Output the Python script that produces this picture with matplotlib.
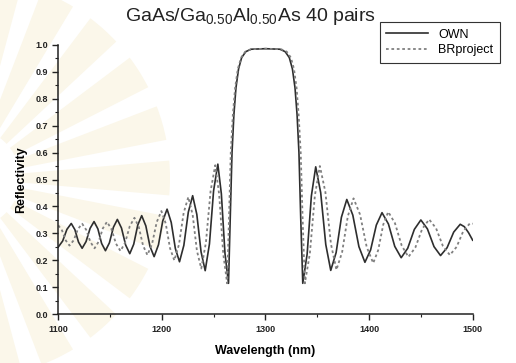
"""Reflectivity spectrum of a GaAs/Ga0.5Al0.5As Bragg mirror, OWN vs BRproject."""

import numpy as np
import matplotlib.pyplot as plt
from matplotlib.patches import Wedge
from matplotlib.ticker import MultipleLocator

plt.rcParams['font.family'] = ['Liberation Sans', 'DejaVu Sans']
plt.rcParams['mathtext.fontset'] = 'custom'
plt.rcParams['mathtext.rm'] = 'Liberation Sans'
plt.rcParams['mathtext.it'] = 'Liberation Sans:italic'

# OWN calculation (wavelength in nm, reflectivity)
own_wl = [1100, 1104.2, 1108.3, 1112.5, 1116.0, 1119.5, 1123, 1126.8, 1130.7, 1134.5,
          1138.2, 1141.8, 1145.5, 1149.3, 1153.2, 1157, 1161, 1165, 1169, 1172.8,
          1176.7, 1180.5, 1184.5, 1188.5, 1192.5, 1196.7, 1200.8, 1205, 1209, 1213,
          1217, 1221.2, 1225.5, 1229.7, 1233.7, 1237.8, 1241.8, 1245.9, 1249.9, 1254,
          1257.4, 1260.9, 1264.3, 1266, 1267.7, 1269.5, 1271.5, 1274, 1277, 1281,
          1286, 1300, 1314, 1319, 1323, 1326, 1328.5, 1330.5, 1332.3, 1334,
          1336, 1340.2, 1344.3, 1348.5, 1353.3, 1358.2, 1363, 1368.2, 1373.3, 1378.5,
          1384.3, 1390.2, 1396, 1401.5, 1407, 1412.5, 1418.7, 1424.8, 1431, 1437.3,
          1443.7, 1450, 1456.3, 1462.7, 1469, 1475.3, 1481.7, 1488, 1492, 1496, 1500]
own_r = [0.25, 0.272, 0.315, 0.337, 0.314, 0.268, 0.245, 0.270, 0.319, 0.344,
         0.317, 0.263, 0.236, 0.265, 0.323, 0.352, 0.320, 0.257, 0.225, 0.260,
         0.331, 0.366, 0.328, 0.252, 0.214, 0.258, 0.346, 0.390, 0.341, 0.244,
         0.195, 0.256, 0.379, 0.440, 0.371, 0.232, 0.162, 0.261, 0.458, 0.557,
         0.447, 0.226, 0.115, 0.36, 0.60, 0.74, 0.84, 0.91, 0.952, 0.974,
         0.983, 0.985, 0.983, 0.974, 0.952, 0.91, 0.84, 0.74, 0.60, 0.36,
         0.115, 0.223, 0.439, 0.547, 0.451, 0.259, 0.163, 0.229, 0.360, 0.426,
         0.368, 0.251, 0.193, 0.239, 0.331, 0.377, 0.335, 0.252, 0.210, 0.245,
         0.315, 0.350, 0.317, 0.251, 0.218, 0.247, 0.305, 0.334, 0.325, 0.303, 0.275]

# BRproject calculation
br_wl = [1100, 1103.6, 1107.2, 1110.8, 1114.9, 1118.9, 1123, 1127, 1131, 1135,
         1139, 1143, 1147, 1151.3, 1155.7, 1160, 1164.5, 1169, 1173.5, 1177.7,
         1181.8, 1186, 1190.5, 1195, 1199.5, 1203.7, 1207.8, 1212, 1216.5, 1221,
         1225.5, 1229.7, 1233.8, 1238, 1242.5, 1247, 1251.5, 1255.3, 1259.2, 1263,
         1264.8, 1266.5, 1268.5, 1270.7, 1273.3, 1276.5, 1280.5, 1286, 1300, 1315,
         1320.5, 1324.5, 1327.5, 1330, 1332, 1334, 1335.8, 1338, 1342.8, 1347.7,
         1352.5, 1357.8, 1363.2, 1368.5, 1374, 1379.5, 1385, 1391.3, 1397.7, 1404,
         1408.8, 1413.7, 1418.5, 1425, 1431.5, 1438, 1444.7, 1451.3, 1458, 1464.7,
         1471.3, 1478, 1484.5, 1491, 1497.5, 1500]
br_r = [0.33, 0.311, 0.274, 0.255, 0.275, 0.316, 0.336, 0.313, 0.268, 0.245,
        0.270, 0.319, 0.343, 0.316, 0.262, 0.235, 0.266, 0.327, 0.358, 0.324,
        0.255, 0.220, 0.261, 0.342, 0.383, 0.337, 0.246, 0.200, 0.259, 0.376,
        0.435, 0.369, 0.236, 0.170, 0.266, 0.457, 0.553, 0.444, 0.225, 0.115,
        0.36, 0.60, 0.74, 0.84, 0.91, 0.952, 0.974, 0.983, 0.985, 0.983,
        0.974, 0.952, 0.91, 0.84, 0.74, 0.60, 0.36, 0.115, 0.224, 0.441,
        0.550, 0.454, 0.261, 0.165, 0.231, 0.364, 0.430, 0.370, 0.250, 0.190,
        0.238, 0.333, 0.380, 0.338, 0.255, 0.213, 0.248, 0.317, 0.352, 0.319,
        0.253, 0.220, 0.250, 0.309, 0.338, 0.336]

fig = plt.figure(figsize=(5.16, 3.63), dpi=100)

# faint fan-shaped emblem printed behind the left part of the page
for ang in np.arange(-80, 81, 16):
    fig.patches.append(Wedge((-30, 185), 200, ang - 5, ang + 5, width=150,
                             transform=None, color='#fbf7ea', lw=0, zorder=-5))

ax = fig.add_axes([0.113, 0.134, 0.803, 0.743])
ax.patch.set_alpha(0)

ax.plot(own_wl, own_r, color='#2e2e2e', lw=1.2, solid_joinstyle='round', label='OWN')
ax.plot(br_wl, br_r, color='#808080', lw=1.3, ls=(0, (1.5, 1.5)), label='BRproject')

ax.set_xlim(1100, 1500)
ax.set_ylim(0.0, 1.0)
ax.xaxis.set_major_locator(MultipleLocator(100))
ax.xaxis.set_minor_locator(MultipleLocator(50))
ax.yaxis.set_major_locator(MultipleLocator(0.1))
ax.yaxis.set_minor_locator(MultipleLocator(0.05))
ax.spines['top'].set_visible(False)
ax.spines['right'].set_visible(False)
for s in ('left', 'bottom'):
    ax.spines[s].set_linewidth(1.1)
    ax.spines[s].set_color('#222222')
ax.tick_params(which='major', direction='out', length=4, width=1, colors='#222222',
               labelsize=6.5)
ax.tick_params(which='minor', direction='out', length=2, width=0.8, colors='#222222')
for lab in ax.get_xticklabels() + ax.get_yticklabels():
    lab.set_fontweight('bold')
ax.yaxis.set_major_formatter(plt.FormatStrFormatter('%.1f'))

ax.set_xlabel('Wavelength (nm)', fontsize=9, fontweight='bold', labelpad=8)
ax.set_ylabel('Reflectivity', fontsize=9, fontweight='bold', labelpad=6)

fig.text(0.485, 0.955, 'GaAs/Ga$_{0.50}$Al$_{0.50}$As 40 pairs', ha='center', va='center',
         fontsize=14, color='#222222')

leg = ax.legend(loc='upper right', bbox_to_anchor=(506 / 516, 1 - 16 / 363),
                bbox_transform=fig.transFigure, fontsize=9, frameon=True, fancybox=False,
                handlelength=3.4, borderpad=0.5, labelspacing=0.3, framealpha=1)
leg.get_frame().set_edgecolor('#333333')
leg.get_frame().set_linewidth(0.8)

fig.savefig('out.png', dpi=100)
